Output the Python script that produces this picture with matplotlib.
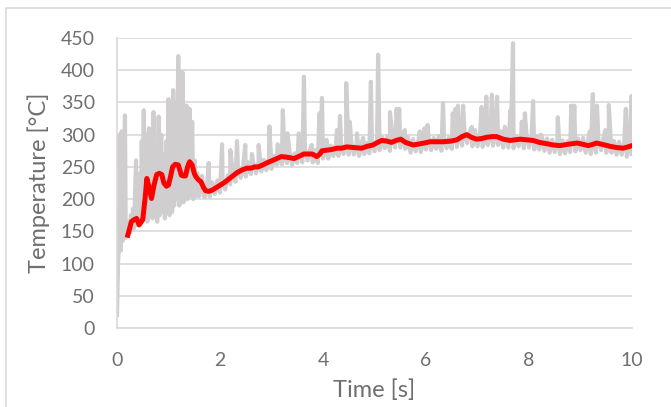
import numpy as np
import matplotlib
matplotlib.use("Agg")
import matplotlib.pyplot as plt
from matplotlib.patches import Rectangle

plt.rcParams['font.family'] = ['Lato', 'DejaVu Sans']

# raw thermocouple signal, ignition phase (0 - 1.6 s)
early_t = [0.00, 0.02, 0.04, 0.05, 0.07, 0.09, 0.11, 0.13, 0.155, 0.17, 0.19, 0.21, 0.23, 0.25,
           0.27, 0.29, 0.31, 0.33, 0.35, 0.37, 0.39, 0.41, 0.43, 0.45, 0.47, 0.48, 0.50, 0.52,
           0.53, 0.55, 0.57, 0.59, 0.61, 0.62, 0.64, 0.66, 0.67, 0.69, 0.71, 0.73, 0.745, 0.76,
           0.78, 0.795, 0.81, 0.83, 0.845, 0.86, 0.88, 0.895, 0.91, 0.93, 0.945, 0.96, 0.98, 0.99,
           1.00, 1.02, 1.035, 1.05, 1.07, 1.08, 1.09, 1.11, 1.125, 1.14, 1.16, 1.175, 1.19, 1.21,
           1.225, 1.24, 1.255, 1.27, 1.29, 1.305, 1.32, 1.335, 1.35, 1.37, 1.39, 1.41, 1.43, 1.445,
           1.46, 1.48, 1.495, 1.51, 1.53, 1.545, 1.56, 1.58]
early_v = [20, 100, 130, 300, 120, 305, 135, 240, 330, 140, 150, 145, 165, 148,
           175, 152, 185, 155, 210, 260, 160, 225, 162, 240, 165, 290, 175, 338,
           190, 270, 300, 165, 280, 310, 190, 260, 300, 170, 335, 180, 270, 290,
           165, 260, 328, 175, 280, 300, 180, 250, 270, 170, 260, 290, 185, 300,
           355, 175, 280, 300, 180, 320, 369, 190, 300, 350, 200, 330, 422, 190,
           300, 340, 220, 397, 195, 290, 330, 210, 345, 200, 300, 340, 205, 280,
           320, 200, 250, 260, 205, 230, 240, 205]

# raw signal after 1.6 s: low / high samples every 0.1 s
band_lo = [205, 203, 204, 208, 210, 215, 223, 227, 233, 235,
           239, 240, 243, 245, 247, 253, 254, 256, 253, 256,
           257, 260, 257, 256, 263, 263, 267, 267, 270, 269,
           269, 267, 270, 271, 274, 276, 279, 275, 280, 280,
           278, 272, 274, 273, 277, 276, 278, 275, 279, 278,
           281, 283, 287, 282, 282, 281, 284, 283, 284, 280,
           280, 279, 282, 279, 280, 277, 277, 275, 272, 273,
           270, 271, 273, 274, 276, 272, 270, 272, 276, 272,
           272, 269, 269, 266, 270]
band_hi = [236, 222, 226, 229, 232, 237, 240, 246, 251, 257,
           255, 259, 261, 263, 267, 270, 273, 273, 271, 274,
           278, 277, 276, 276, 281, 283, 285, 286, 288, 288,
           286, 287, 287, 290, 292, 296, 298, 295, 298, 300,
           296, 293, 290, 294, 296, 295, 298, 297, 296, 299,
           298, 301, 305, 307, 302, 299, 303, 302, 305, 303,
           300, 297, 300, 301, 298, 298, 296, 294, 292, 289,
           291, 290, 292, 294, 295, 292, 291, 290, 295, 292,
           290, 289, 287, 285, 289]
band_t0 = 1.6

# isolated spikes of the raw signal
spike_t = [1.78, 2.04, 2.20, 2.33, 2.49, 2.62, 2.75, 2.96, 3.12, 3.22, 3.31, 3.53, 3.63, 3.78,
           3.93, 3.98, 4.07, 4.27, 4.33, 4.45, 4.52, 4.66, 4.78, 4.93, 5.07, 5.30, 5.43, 5.48,
           5.59, 5.88, 5.97, 6.03, 6.33, 6.52, 6.57, 6.62, 6.72, 6.89, 7.08, 7.17, 7.28, 7.38,
           7.53, 7.64, 7.69, 7.86, 7.92, 8.08, 8.23, 8.56, 8.82, 8.88, 9.18, 9.24, 9.32, 9.48,
           9.55, 9.88, 9.99]
spike_v = [256, 285, 276, 290, 284, 270, 284, 313, 285, 338, 302, 302, 390, 284,
           333, 357, 292, 307, 329, 380, 320, 302, 295, 382, 424, 335, 340, 340,
           307, 305, 310, 315, 349, 333, 340, 345, 345, 312, 343, 359, 362, 359,
           312, 338, 442, 320, 333, 352, 300, 327, 345, 345, 305, 363, 345, 307,
           346, 340, 360]

# moving average
red_t = [0.21, 0.28, 0.33, 0.38, 0.43, 0.50, 0.55, 0.58, 0.62, 0.67, 0.72, 0.77, 0.82, 0.87,
         0.91, 0.96, 1.00, 1.04, 1.08, 1.13, 1.19, 1.22, 1.25, 1.29, 1.33, 1.37, 1.41, 1.46,
         1.50, 1.53, 1.58, 1.63, 1.68, 1.72, 1.78, 1.85, 1.93, 2.01, 2.09, 2.17, 2.25, 2.33,
         2.42, 2.52, 2.60, 2.67, 2.74, 2.83, 2.93, 3.05, 3.19, 3.30, 3.44, 3.55, 3.63, 3.72,
         3.79, 3.88, 3.94, 3.98, 4.08, 4.17, 4.27, 4.36, 4.46, 4.60, 4.75, 4.86, 4.97, 5.06,
         5.14, 5.24, 5.33, 5.42, 5.51, 5.60, 5.75, 5.90, 6.08, 6.20, 6.33, 6.48, 6.60, 6.70,
         6.79, 6.88, 6.98, 7.08, 7.18, 7.28, 7.37, 7.50, 7.63, 7.73, 7.83, 7.95, 8.08, 8.20,
         8.34, 8.47, 8.60, 8.75, 8.93, 9.05, 9.15, 9.24, 9.31, 9.42, 9.57, 9.70, 9.83, 9.92,
         10.00]
red_v = [144, 165, 168, 170, 160, 168, 205, 232, 219, 201, 222, 238, 240, 238,
         225, 220, 222, 235, 250, 254, 253, 245, 237, 236, 236, 250, 258, 253,
         240, 235, 230, 227, 218, 213, 212, 214, 218, 222, 226, 231, 236, 241,
         245, 248, 248, 250, 250, 253, 257, 261, 266, 265, 263, 267, 270, 270,
         270, 266, 270, 275, 276, 277, 279, 279, 281, 280, 279, 282, 284, 288,
         291, 290, 288, 291, 293, 288, 284, 286, 289, 289, 289, 290, 292, 297,
         300, 296, 293, 294, 296, 297, 297, 293, 291, 292, 293, 292, 291, 288,
         286, 284, 283, 285, 287, 285, 283, 285, 287, 285, 282, 280, 279, 281,
         283]

# assemble the raw trace in time order
n = len(band_lo)
band_t = np.round(band_t0 + 0.1 * np.arange(n), 3)
bt = np.concatenate([band_t, band_t + 0.05])
bv = np.concatenate([band_lo, band_hi])
raw_t = np.concatenate([early_t, bt, spike_t])
raw_v = np.concatenate([early_v, bv, spike_v])
order = np.argsort(raw_t, kind='stable')
raw_t, raw_v = raw_t[order], raw_v[order]
keep = raw_t <= 10.0
raw_t, raw_v = raw_t[keep], raw_v[keep]

fig = plt.figure(figsize=(6.71, 4.07), dpi=100)
fig.patches.append(Rectangle((6 / 671, -0.1), 1.1, 1 - 8 / 407 + 0.1, transform=fig.transFigure,
                             fill=False, edgecolor='#d9d9d9', linewidth=1.2))
ax = fig.add_axes([117 / 671, 1 - 328 / 407, 515 / 671, 290 / 407])

ax.plot(raw_t, raw_v, color='#d0cece', linewidth=3.0, solid_joinstyle='round', zorder=2)
ax.plot(red_t, red_v, color='#ff0000', linewidth=3.6, solid_joinstyle='round', zorder=3)

ax.set_xlim(0, 10)
ax.set_ylim(0, 450)
ax.set_xticks(np.arange(0, 11, 2))
ax.set_yticks(np.arange(0, 451, 50))
ax.grid(axis='y', color='#d9d9d9', linewidth=1.2, zorder=0)
ax.set_axisbelow(True)
for s in ['top', 'right']:
    ax.spines[s].set_visible(False)
for s in ['left', 'bottom']:
    ax.spines[s].set_color('#d9d9d9')
    ax.spines[s].set_linewidth(1.2)
ax.tick_params(length=0, labelsize=14, colors='#6f6f6f')
ax.tick_params(axis='y', pad=16)
ax.tick_params(axis='x', pad=17)

ax.set_xlabel('Time [s]', fontsize=17, color='#6f6f6f', labelpad=8)
ax.set_ylabel('Temperature [°C]', fontsize=17, color='#6f6f6f', labelpad=8)

fig.savefig('out.png', dpi=100)
